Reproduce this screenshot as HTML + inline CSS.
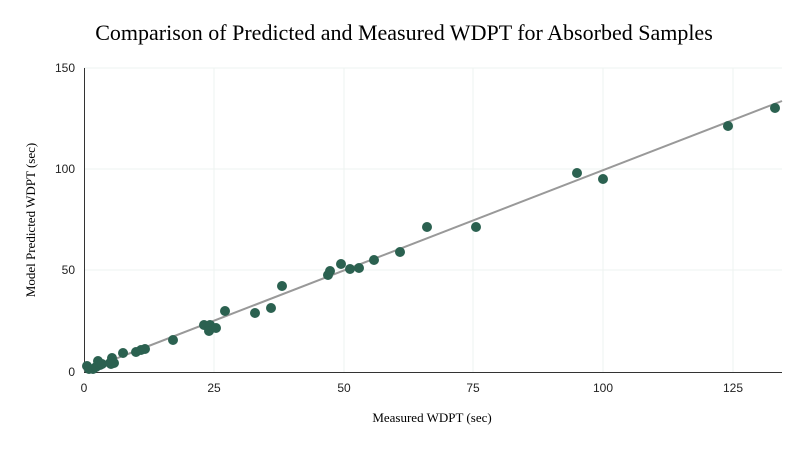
<!DOCTYPE html>
<html><head><meta charset="utf-8"><style>body{margin:0;background:#fff}</style></head><body>
<svg width="804" height="447" xmlns="http://www.w3.org/2000/svg" font-family="Liberation Serif, serif">
<rect width="804" height="447" fill="#fff"/>
<text x="404" y="40" text-anchor="middle" font-size="22" fill="#000">Comparison of Predicted and Measured WDPT for Absorbed Samples</text>
<g stroke="#eef3f0" stroke-width="1">
<line x1="214" y1="68" x2="214" y2="372"/><line x1="344" y1="68" x2="344" y2="372"/><line x1="473" y1="68" x2="473" y2="372"/><line x1="603" y1="68" x2="603" y2="372"/><line x1="733" y1="68" x2="733" y2="372"/>
<line x1="84" y1="270" x2="782" y2="270"/><line x1="84" y1="169" x2="782" y2="169"/><line x1="84" y1="68" x2="782" y2="68"/>
</g>
<line x1="84.5" y1="68" x2="84.5" y2="372" stroke="#333"/>
<line x1="84" y1="372.5" x2="782" y2="372.5" stroke="#333"/>
<g font-family="Liberation Sans, sans-serif" font-size="12" fill="#222">
<text x="84" y="392" text-anchor="middle">0</text><text x="214" y="392" text-anchor="middle">25</text><text x="344" y="392" text-anchor="middle">50</text><text x="473" y="392" text-anchor="middle">75</text><text x="603" y="392" text-anchor="middle">100</text><text x="733" y="392" text-anchor="middle">125</text>
<text x="75" y="376" text-anchor="end">0</text><text x="75" y="274" text-anchor="end">50</text><text x="75" y="173" text-anchor="end">100</text><text x="75" y="72" text-anchor="end">150</text>
</g>
<text x="432" y="422" text-anchor="middle" font-size="13">Measured WDPT (sec)</text>
<text transform="translate(35,220) rotate(-90)" text-anchor="middle" font-size="13">Model Predicted WDPT (sec)</text>
<line x1="84" y1="371" x2="782" y2="101" stroke="#999" stroke-width="2"/>
<g fill="#2b6150">
<circle cx="87" cy="366" r="5"/><circle cx="89" cy="369" r="5"/><circle cx="93" cy="369" r="5"/><circle cx="96" cy="367" r="5"/><circle cx="98" cy="361" r="5"/><circle cx="100" cy="365" r="5"/><circle cx="102" cy="364" r="5"/><circle cx="110" cy="363" r="5"/><circle cx="112" cy="358" r="5"/><circle cx="114" cy="363" r="5"/><circle cx="111" cy="364" r="5"/><circle cx="123" cy="353" r="5"/><circle cx="136" cy="352" r="5"/><circle cx="141" cy="350" r="5"/><circle cx="145" cy="349" r="5"/><circle cx="173" cy="340" r="5"/><circle cx="204" cy="325" r="5"/><circle cx="210" cy="325" r="5"/><circle cx="209" cy="331" r="5"/><circle cx="216" cy="328" r="5"/><circle cx="225" cy="311" r="5"/><circle cx="255" cy="313" r="5"/><circle cx="271" cy="308" r="5"/><circle cx="282" cy="286" r="5"/><circle cx="328" cy="275" r="5"/><circle cx="330" cy="271" r="5"/><circle cx="341" cy="264" r="5"/><circle cx="350" cy="269" r="5"/><circle cx="359" cy="268" r="5"/><circle cx="374" cy="260" r="5"/><circle cx="400" cy="252" r="5"/><circle cx="427" cy="227" r="5"/><circle cx="476" cy="227" r="5"/><circle cx="577" cy="173" r="5"/><circle cx="603" cy="179" r="5"/><circle cx="728" cy="126" r="5"/><circle cx="775" cy="108" r="5"/>
</g>
</svg>
</body></html>
